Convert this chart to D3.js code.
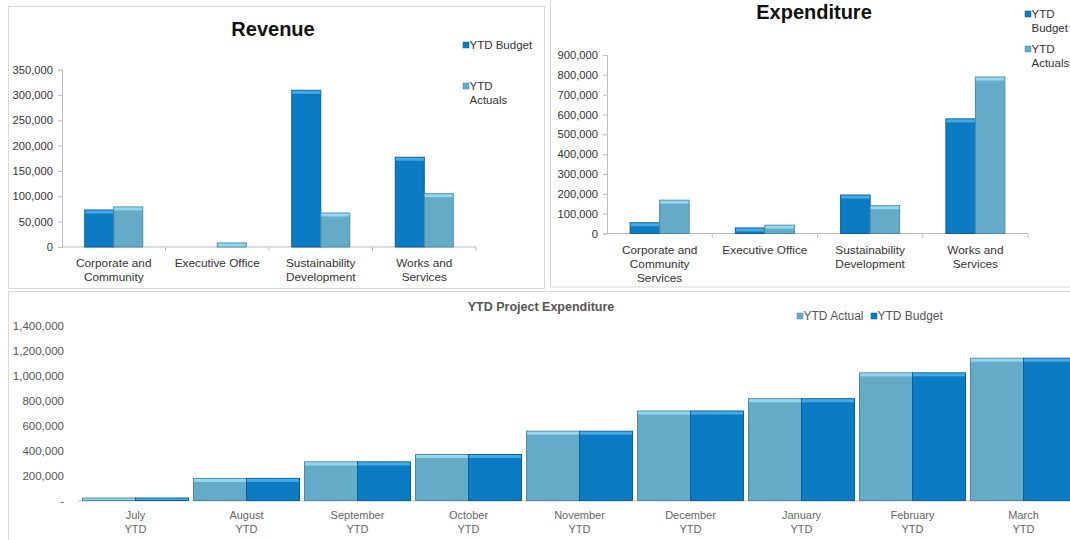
<!DOCTYPE html>
<html>
<head>
<meta charset="utf-8">
<script src="https://cdn.jsdelivr.net/npm/d3@7"></script>
<style>
  body { margin: 0; background: #fff; }
  svg { display: block; font-family: "Liberation Sans", Arial, Helvetica, sans-serif; }
</style>
</head>
<body>
<svg id="chart" width="1070" height="540"></svg>
<script>
// data
const divisions = ["Corporate and Community Services", "Executive Office", "Sustainability Development", "Works and Services"];
const divisionLines = [["Corporate and", "Community", "Services"], ["Executive Office"], ["Sustainability", "Development"], ["Works and", "Services"]];
const revenueBudget = [73000, 0, 309000, 177000];
const revenueActual = [79000, 8000, 67000, 105000];
const expenditureBudget = [54000, 28000, 194000, 578000];
const expenditureActual = [168000, 42000, 140000, 789000];

const months = ["July", "August", "September", "October", "November", "December", "January", "February", "March"];
const projectActual = [20000, 177000, 309000, 368000, 554000, 716000, 814000, 1021000, 1138000];
const projectBudget = [20000, 177000, 309000, 368000, 554000, 716000, 814000, 1021000, 1138000];

const colors = {
  budget: { fill: "#0b7bc3", top: "#46a9e6", edge: "#07609a" },
  actual: { fill: "#64abc8", top: "#93d6ee", edge: "#4a8ba6" }
};

const svg = d3.select("#chart");
const fmt = d3.format(",");

// panel frames
svg.append("rect").attr("x", 8.5).attr("y", 6.5).attr("width", 536).attr("height", 282)
  .attr("fill", "#fff").attr("stroke", "#d9d9d9");
svg.append("rect").attr("x", 550.5).attr("y", -1).attr("width", 530).attr("height", 288)
  .attr("fill", "#fff").attr("stroke", "#d9d9d9");

function bar(g, x, y, w, h, c) {
  if (h <= 0) return;
  g.append("rect").attr("x", x).attr("y", y).attr("width", w).attr("height", h)
    .attr("fill", c.fill).attr("stroke", c.edge).attr("stroke-width", 1);
  g.append("rect").attr("x", x + 0.5).attr("y", y + 0.5).attr("width", w - 1).attr("height", Math.min(3, h - 1))
    .attr("fill", c.top);
}

function groupChart(o) {
  const g = svg.append("g").attr("clip-path", o.clip ? `url(#${o.clip})` : null);
  const x = d3.scaleBand().domain(divisions).range([o.x0, o.x1]);
  const y = d3.scaleLinear().domain([0, o.max]).range([o.yBottom, o.yTop]);
  const gw = o.groupWidth;
  const x1 = d3.scaleBand().domain(["budget", "actual"])
    .range([(x.bandwidth() - gw) / 2, (x.bandwidth() + gw) / 2]);

  // y axis
  const ya = g.append("g").attr("transform", `translate(${o.x0},0)`)
    .call(d3.axisLeft(y).tickValues(d3.range(0, o.max + 1, o.step)).tickFormat(fmt).tickSize(4).tickPadding(5));
  ya.select(".domain").attr("stroke", "#bdbdbd");
  ya.selectAll(".tick line").attr("stroke", "#bdbdbd");
  ya.selectAll(".tick text").attr("fill", "#333").attr("font-size", 11.2);

  // x axis
  const xa = g.append("g").attr("transform", `translate(0,${o.yBottom})`);
  xa.append("line").attr("x1", o.x0).attr("x2", o.x1).attr("stroke", "#bdbdbd");
  xa.selectAll("line.tk").data(divisions).join("line").attr("class", "tk")
    .attr("x1", d => x(d) + x.bandwidth()).attr("x2", d => x(d) + x.bandwidth())
    .attr("y1", 0).attr("y2", 4).attr("stroke", "#bdbdbd");

  divisions.forEach((d, i) => {
    const bx = x(d);
    bar(g, bx + x1("budget"), y(o.budget[i]), x1.bandwidth(), y(0) - y(o.budget[i]), colors.budget);
    bar(g, bx + x1("actual"), y(o.actual[i]), x1.bandwidth(), y(0) - y(o.actual[i]), colors.actual);
    const t = g.append("text").attr("text-anchor", "middle").attr("fill", "#333").attr("font-size", 11.8)
      .attr("x", bx + x.bandwidth() / 2);
    divisionLines[i].forEach((ln, k) => {
      t.append("tspan").attr("x", bx + x.bandwidth() / 2).attr("y", o.yBottom + 20 + k * 14.3).text(ln);
    });
  });

  svg.append("text").attr("x", o.titleX).attr("y", o.titleY).attr("text-anchor", "middle")
    .attr("font-size", 20).attr("font-weight", "bold").attr("fill", "#111").text(o.title);

  o.legend.forEach(l => {
    svg.append("rect").attr("x", l.x).attr("y", l.y - 7).attr("width", 6).attr("height", 6)
      .attr("fill", colors[l.key].fill).attr("stroke", colors[l.key].edge).attr("stroke-width", 0.5);
    const t = svg.append("text").attr("font-size", 11.5).attr("fill", "#333");
    l.lines.forEach((ln, k) => t.append("tspan").attr("x", l.x + 6.5).attr("y", l.y + k * 14).text(ln));
  });
}

svg.append("clipPath").attr("id", "revClip").append("rect")
  .attr("x", 8).attr("y", 6).attr("width", 537).attr("height", 281);

groupChart({
  title: "Revenue", titleX: 273, titleY: 36, clip: "revClip",
  x0: 62, x1: 476, yTop: 69.5, yBottom: 247, max: 350000, step: 50000, groupWidth: 58,
  budget: revenueBudget, actual: revenueActual,
  legend: [
    { key: "budget", x: 463, y: 49, lines: ["YTD Budget"] },
    { key: "actual", x: 463, y: 90, lines: ["YTD", "Actuals"] }
  ]
});

groupChart({
  title: "Expenditure", titleX: 814, titleY: 19,
  x0: 607, x1: 1028, yTop: 55, yBottom: 233.5, max: 900000, step: 100000, groupWidth: 59,
  budget: expenditureBudget, actual: expenditureActual,
  legend: [
    { key: "budget", x: 1025, y: 18, lines: ["YTD", "Budget"] },
    { key: "actual", x: 1025, y: 53, lines: ["YTD", "Actuals"] }
  ]
});

// bottom chart
svg.append("rect").attr("x", 8.5).attr("y", 291.5).attr("width", 1070).attr("height", 260)
  .attr("fill", "#fff").attr("stroke", "#d9d9d9");

const pg = svg.append("g");
const px = d3.scaleBand().domain(months).range([80, 1079]);
const py = d3.scaleLinear().domain([0, 1400000]).range([500.5, 325.5]);
const pgw = px.bandwidth() - 5;
const px1 = d3.scaleBand().domain(["actual", "budget"])
  .range([(px.bandwidth() - pgw) / 2, (px.bandwidth() + pgw) / 2]);

const pya = pg.append("g").attr("transform", "translate(69,0)")
  .call(d3.axisLeft(py).ticks(7).tickFormat(d => d === 0 ? "-" : fmt(d)).tickSize(0).tickPadding(5));
pya.select(".domain").remove();
pya.selectAll(".tick text").attr("fill", "#555").attr("font-size", 11.5);

pg.append("line").attr("x1", 78).attr("x2", 1070).attr("y1", 501).attr("y2", 501).attr("stroke", "#cfcfcf");

months.forEach((m, i) => {
  const bx = px(m);
  bar(pg, bx + px1("actual"), py(projectActual[i]), px1.bandwidth(), py(0) - py(projectActual[i]), colors.actual);
  bar(pg, bx + px1("budget"), py(projectBudget[i]), px1.bandwidth(), py(0) - py(projectBudget[i]), colors.budget);
  const t = pg.append("text").attr("text-anchor", "middle").attr("fill", "#666").attr("font-size", 11);
  [m, "YTD"].forEach((ln, k) => t.append("tspan").attr("x", bx + px.bandwidth() / 2).attr("y", 519 + k * 14).text(ln));
});

svg.append("text").attr("x", 541).attr("y", 311).attr("text-anchor", "middle")
  .attr("font-size", 12.5).attr("font-weight", "bold").attr("fill", "#555").text("YTD Project Expenditure");

[{ key: "actual", x: 797, label: "YTD Actual" }, { key: "budget", x: 871, label: "YTD Budget" }].forEach(l => {
  svg.append("rect").attr("x", l.x).attr("y", 313).attr("width", 6).attr("height", 6)
    .attr("fill", colors[l.key].fill).attr("stroke", colors[l.key].edge).attr("stroke-width", 0.5);
  svg.append("text").attr("x", l.x + 6.5).attr("y", 320).attr("font-size", 12).attr("fill", "#555").text(l.label);
});
</script>
</body>
</html>
